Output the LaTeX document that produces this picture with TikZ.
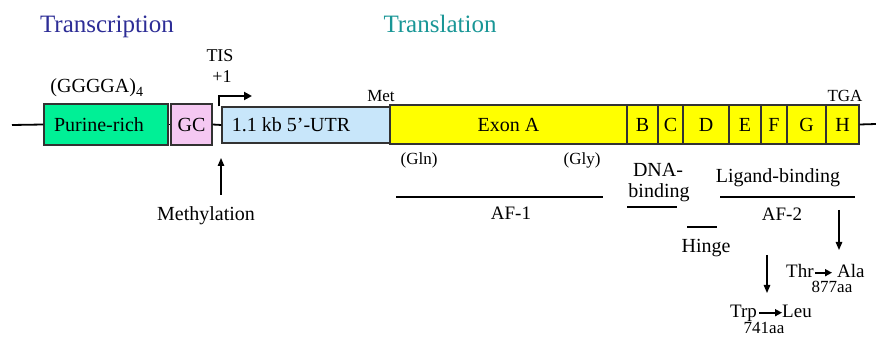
\documentclass[tikz,border=0pt]{standalone}
\usepackage{fontspec}
\setmainfont{Liberation Serif}
\usetikzlibrary{arrows.meta}

\definecolor{purine}{RGB}{0,240,150}
\definecolor{gcpink}{RGB}{245,200,242}
\definecolor{utrblue}{RGB}{200,230,250}
\definecolor{exonyel}{RGB}{255,255,0}
\definecolor{transblue}{RGB}{45,45,150}
\definecolor{transteal}{RGB}{25,150,150}
\definecolor{edge}{RGB}{50,50,50}

\begin{document}
\begin{tikzpicture}[x=1pt,y=-1pt,
  box/.style={draw=edge, line width=1.2pt, inner sep=0pt,
              font=\fontsize{20}{24}\selectfont},
  cell/.style={box, fill=exonyel, minimum height=39pt},
  title/.style={font=\fontsize{25}{30}\selectfont, inner sep=0pt, anchor=base},
  lbl/.style={font=\fontsize{20}{24}\selectfont, inner sep=0pt, anchor=base},
  sml/.style={font=\fontsize{17}{20}\selectfont, inner sep=0pt, anchor=base},
  dna/.style={line width=1.8pt},
  bar/.style={line width=1.1pt},
  tip/.style={-{Triangle[length=8pt,width=6.5pt]}},
  dn/.style={line width=1.3pt, tip},
  sub/.style={line width=1.6pt, -{Triangle[length=7pt,width=7pt]}}]

\useasboundingbox (0,0) rectangle (876,339);

% headings
\node[title, text=transblue] (htx) at (107,33) {Transcription};
\node[title, text=transteal] (htl) at (440,33) {Translation};

% promoter and 5' region
\node[box, fill=purine, minimum width=124pt, minimum height=41pt] (pur) at (106,124.5) {};
\node[lbl, anchor=center] (purt) at (99,125) {Purine-rich};
\node[box, fill=gcpink, minimum width=41pt, minimum height=41pt] (gc) at (191.5,124.5) {GC};
\node[box, fill=utrblue, minimum width=168pt, minimum height=36pt] (utr) at (306,125) {};
\node[lbl, anchor=center] (utrt) at (291,125) {1.1 kb 5’-UTR};

% coding exons
\node[cell, minimum width=237pt] (exA) at (508.5,124.5) {Exon A};
\node[cell, minimum width=31pt] (exB) at (642.5,124.5) {B};
\node[cell, minimum width=25pt] (exC) at (670.5,124.5) {C};
\node[cell, minimum width=46pt] (exD) at (706,124.5) {D};
\node[cell, minimum width=32pt] (exE) at (745,124.5) {E};
\node[cell, minimum width=26pt] (exF) at (774,124.5) {F};
\node[cell, minimum width=39pt] (exG) at (806.5,124.5) {G};
\node[cell, minimum width=33pt] (exH) at (842.5,124.5) {H};

% DNA backbone
\coordinate (lend) at (12,125);
\coordinate (rend) at (876,124);
\draw[dna] (lend) -- (pur.west);
\draw[dna] (pur.east) -- (gc.west);
\draw[dna] (gc.east) -- (utr.west);
\draw[dna] (exH.east) -- (rend);

% labels above the gene
\node[lbl] (ggg) at (97,93) {(GGGGA)\textsubscript{4}};
\node[sml, font=\fontsize{18}{21}\selectfont] (tis) at (220,62) {TIS};
\node[sml, font=\fontsize{18}{21}\selectfont] (plus) at (222,83) {+1};
\node[sml] (met) at (381,102) {Met};
\node[sml] (tga) at (845,102) {TGA};

% transcription start arrow
\coordinate (tisend) at (252,96);
\draw[line width=2pt, -{Triangle[length=8pt,width=8pt]}]
  ([xshift=-2pt]utr.north west) |- (tisend);

% methylation
\node[lbl] (meth) at (206,221) {Methylation};
\coordinate (mbot) at (221,195);
\coordinate (mtop) at (221,158);
\draw[dn] (mbot) -- (mtop);

% protein domains
\node[sml] (gln) at (419,165) {(Gln)};
\node[sml] (gly) at (582,165) {(Gly)};
\draw[bar] (396,197) -- (603,197);
\node[lbl, font=\fontsize{19}{23}\selectfont] (af1) at (511,220) {AF-1};

\node[lbl] (dnab1) at (658,177) {DNA-};
\node[lbl] (dnab2) at (659,198) {binding};
\draw[bar] (627,207) -- (677,207);

\node[lbl] (lig) at (778,183) {Ligand-binding};
\draw[bar] (720,197) -- (855,197);
\node[lbl, font=\fontsize{19}{23}\selectfont] (af2) at (782,221) {AF-2};

\draw[bar] (687,227) -- (717,227);
\node[lbl] (hinge) at (706,253) {Hinge};

% point mutations
\coordinate (m1top) at (839,210);
\coordinate (m1bot) at (839,250);
\draw[dn] (m1top) -- (m1bot);
\node[lbl, font=\fontsize{19}{23}\selectfont, anchor=base west] (thr) at (786,277) {Thr};
\node[lbl, font=\fontsize{19}{23}\selectfont, anchor=base west] (ala) at (837,277) {Ala};
\draw[sub, shorten >=5pt, shorten <=1pt]
  ([yshift=2pt]thr.mid east) -- ([yshift=2pt]ala.mid west);
\node[sml] (aa877) at (832,293) {877aa};

\coordinate (m2top) at (767,255);
\coordinate (m2bot) at (767,293);
\draw[dn] (m2top) -- (m2bot);
\node[lbl, font=\fontsize{19}{23}\selectfont, anchor=base west] (trp) at (730,317) {Trp};
\node[lbl, font=\fontsize{19}{23}\selectfont, anchor=base west] (leu) at (782,317) {Leu};
\draw[sub, shorten <=2pt]
  ([yshift=2pt]trp.mid east) -- ([yshift=2pt]leu.mid west);
\node[sml] (aa741) at (764,333) {741aa};
\end{tikzpicture}
\end{document}
